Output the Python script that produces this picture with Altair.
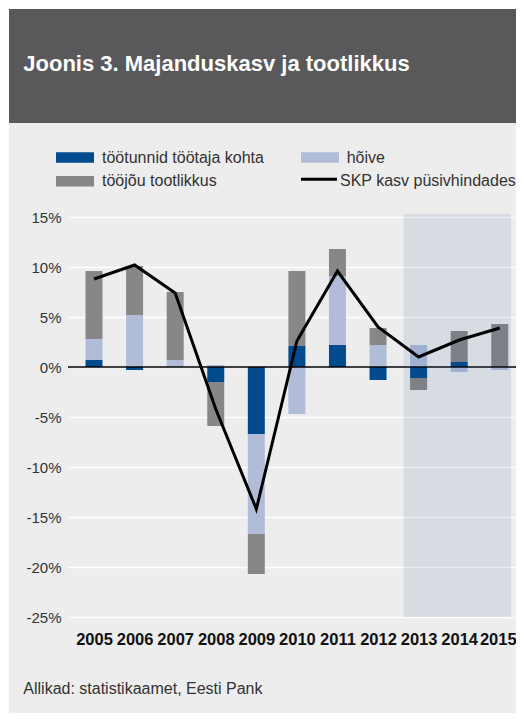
import altair as alt
import pandas as pd

# ---- data ----
years = [2005, 2006, 2007, 2008, 2009, 2010, 2011, 2012, 2013, 2014, 2015]
tootunnid = [0.7, -0.3, 0.0, -1.5, -6.7, 2.1, 2.2, -1.3, -1.1, 0.5, 0.0]
hoive = [2.1, 5.2, 0.7, 0.2, -10.0, -4.7, 6.9, 2.2, 2.2, -0.5, -0.3]
tootlikkus = [6.8, 4.9, 6.8, -4.4, -4.0, 7.5, 2.7, 1.7, -1.2, 3.1, 4.3]
skp = [8.8, 10.2, 7.4, -4.2, -14.2, 2.6, 9.6, 4.0, 1.0, 2.7, 3.9]

series_names = ["töötunnid töötaja kohta", "hõive", "tööjõu tootlikkus"]
series_colors = ["#004a8d", "#b0bcd8", "#878787"]
line_name = "SKP kasv püsivhindades"
y_ticks = [-25, -20, -15, -10, -5, 0, 5, 10, 15]
forecast_start = 2012.63
title_text = "Joonis 3. Majanduskasv ja tootlikkus"
source_text = "Allikad: statistikaamet, Eesti Pank"

FONT = "Liberation Sans"
W, H = 448, 400
PAD_B = 96
x_dom = [2004.482, 2015.277]
y_dom = [-25, 15]

rows = []
for i, y in enumerate(years):
    for k, (name, vals) in enumerate(zip(series_names, [tootunnid, hoive, tootlikkus])):
        rows.append({"year": y, "series": name, "value": vals[i], "ord": k})
bars_df = pd.DataFrame(rows)
line_df = pd.DataFrame({"year": years, "skp": skp})
shade_df = pd.DataFrame({"x": [forecast_start], "x2": [x_dom[1]], "y": [15.3], "y2": [y_dom[0]]})
one = pd.DataFrame({"a": [0]})

xscale = alt.Scale(domain=x_dom, nice=False, zero=False)
yscale = alt.Scale(domain=y_dom, nice=False)

bars = alt.Chart(bars_df).mark_bar(size=17).encode(
    x=alt.X("year:Q", scale=xscale,
            axis=alt.Axis(values=years, format="d", title=None, grid=False, ticks=False,
                          domain=False, labelFont=FONT, labelFontSize=16.5,
                          labelFontWeight="bold", labelColor="#111111", labelPadding=14,
                          labelFlush=False, labelOverlap=False, labelBound=False,
                          labelOffset={"condition": {"test": "datum.value == 2015", "value": -2},
                                       "value": 0})),
    y=alt.Y("value:Q", scale=yscale, stack="zero",
            axis=alt.Axis(values=y_ticks, labelExpr="datum.value + '%'", title=None,
                          ticks=False, domain=False, grid=True, gridColor="#ffffff",
                          gridWidth=1.5, labelFont=FONT, labelFontSize=15,
                          labelColor="#333333", labelPadding=7)),
    color=alt.Color("series:N", scale=alt.Scale(domain=series_names, range=series_colors),
                    legend=None),
    order=alt.Order("ord:Q", sort="ascending"),
)

zero = alt.Chart(one).mark_rule(color="#000000", strokeWidth=1.3).encode(
    y=alt.datum(0, scale=yscale), x=alt.value(0), x2=alt.value(W)
)

shade = alt.Chart(shade_df).mark_rect(color="#285096", opacity=0.11).encode(
    x=alt.X("x:Q", scale=xscale), x2="x2:Q",
    y=alt.Y("y:Q", scale=yscale), y2="y2:Q",
)

line = alt.Chart(line_df).mark_line(color="#000000", strokeWidth=3).encode(
    x=alt.X("year:Q", scale=xscale), y=alt.Y("skp:Q", scale=yscale)
)

# header & frame
header = alt.Chart(one).mark_rect(color="#59595b").encode(
    x=alt.value(-59), x2=alt.value(W + 10), y=alt.value(-208), y2=alt.value(-94)
)
edge_left = alt.Chart(one).mark_rect(color="#ffffff").encode(
    x=alt.value(-60), x2=alt.value(-59), y=alt.value(-209), y2=alt.value(H + PAD_B)
)
edge_top = alt.Chart(one).mark_rect(color="#ffffff").encode(
    x=alt.value(-60), x2=alt.value(W + 10), y=alt.value(-209), y2=alt.value(-208)
)
title = alt.Chart(one).mark_text(align="left", baseline="alphabetic", font=FONT,
                                 fontSize=22, fontWeight="bold", color="#ffffff").encode(
    x=alt.value(-44.7), y=alt.value(-146.3), text=alt.value(title_text)
)
source = alt.Chart(one).mark_text(align="left", baseline="alphabetic", font=FONT,
                                  fontSize=16, color="#333333").encode(
    x=alt.value(-44.7), y=alt.value(477), text=alt.value(source_text)
)

# legend
def leg_rect(x0, y0, color):
    return alt.Chart(one).mark_rect(color=color).encode(
        x=alt.value(x0), x2=alt.value(x0 + 38), y=alt.value(y0), y2=alt.value(y0 + 10.4)
    )

def leg_text(x0, yc, txt):
    return alt.Chart(one).mark_text(align="left", baseline="middle", font=FONT,
                                    fontSize=16, color="#333333").encode(
        x=alt.value(x0), y=alt.value(yc), text=alt.value(txt)
    )

leg_line = alt.Chart(one).mark_rule(color="#000000", strokeWidth=3).encode(
    x=alt.value(233), x2=alt.value(269), y=alt.value(-37.7)
)

legend_layers = [
    leg_rect(-12, -64.7, series_colors[0]), leg_text(34, -59.5, series_names[0]),
    leg_rect(233, -64.7, series_colors[1]), leg_text(278.7, -59.5, series_names[1]),
    leg_rect(-12, -41, series_colors[2]), leg_text(34, -36.3, series_names[2]),
    leg_line, leg_text(272, -36.3, line_name),
]

chart = alt.layer(
    header, edge_left, edge_top, title, source,
    bars, zero, shade, line, *legend_layers
).properties(
    width=W, height=H,
    autosize=alt.AutoSizeParams(type="none"),
    padding={"left": 60, "top": 209, "right": 0, "bottom": PAD_B},
    background="#ecedec",
).configure_view(stroke=None, fill=None)

chart.save("out.html", embed_options={"renderer": "svg", "actions": False})
